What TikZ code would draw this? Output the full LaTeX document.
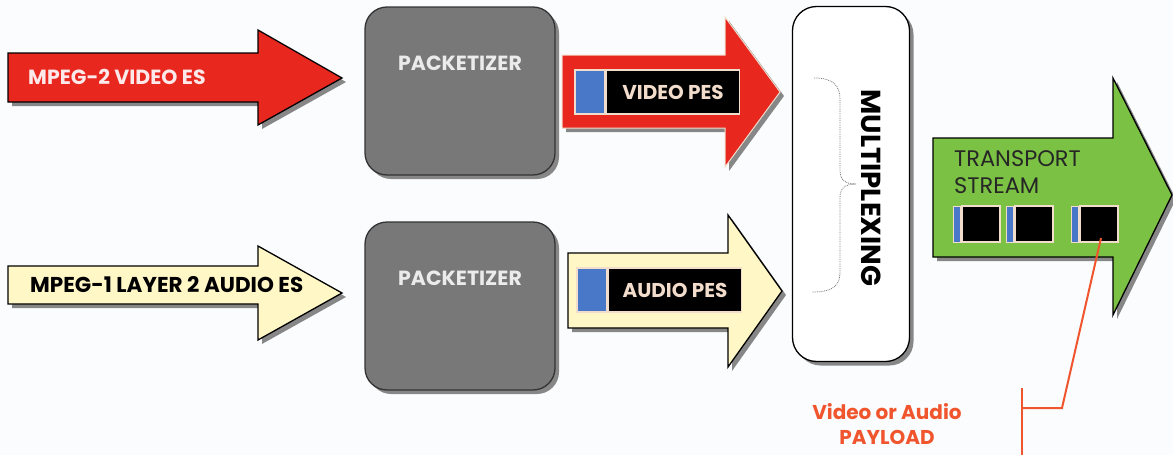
\documentclass[tikz,border=0pt]{standalone}
\usepackage{fontspec}
\setmainfont{Poppins}
\usetikzlibrary{shadows,positioning}

\definecolor{bgcol}{HTML}{FAFCFE}
\definecolor{esred}{HTML}{E8271F}
\definecolor{esyellow}{HTML}{FFF7C6}
\definecolor{tsgreen}{HTML}{7BC143}
\definecolor{packgrey}{HTML}{787878}
\definecolor{pesblue}{HTML}{4A78C8}
\definecolor{pesedge}{HTML}{F2DCCB}
\definecolor{payred}{HTML}{F0552E}

\begin{document}
\begin{tikzpicture}[x=1pt,y=-1pt,
    dropsh/.style={drop shadow={shadow xshift=4pt,shadow yshift=-4pt,fill=black!55,opacity=0.85}},
    esarrow/.style={dropsh,draw=black,line width=1.3pt},
    estext/.style={font=\bfseries\fontsize{20.5}{24}\selectfont,anchor=west,inner sep=0pt},
    packbox/.style={dropsh,draw=black!80,line width=1.3pt,fill=packgrey,rounded corners=22pt,
        minimum width=190pt,minimum height=168pt,inner sep=0pt},
    packtext/.style={font=\bfseries\fontsize{20.5}{24}\selectfont,text=black!8},
    pesbox/.style={fill=black,draw=pesedge,line width=1.5pt,minimum width=133pt,minimum height=44pt,
        inner sep=0pt,text=pesedge,font=\bfseries\fontsize{20}{24}\selectfont},
    pesflag/.style={fill=pesblue,draw=pesedge,line width=1.5pt,minimum width=30pt,minimum height=44pt,inner sep=0pt},
    pkt/.style={fill=black,draw=pesedge,line width=1.2pt,minimum width=38pt,minimum height=36pt,inner sep=0pt},
    pktflag/.style={fill=pesblue,draw=pesedge,line width=1pt,minimum width=7pt,minimum height=36pt,inner sep=0pt},
    payline/.style={payred,line width=2pt}]

    % Page and background
    \useasboundingbox (0,0) rectangle (1173,455);
    \fill[bgcol] (0,0) rectangle (1173,455);

    % Elementary streams
    \draw[esarrow,fill=esred] (8,53) -- (258,53) -- (258,30) -- (342,78) -- (258,125) -- (258,102) -- (8,102) -- cycle;
    \node[estext,text=white!90!esred] (videoes) at (28,77) {MPEG-2 VIDEO ES};
    \draw[esarrow,fill=esyellow] (8,266) -- (258,266) -- (258,246) -- (342,293) -- (258,340) -- (258,304) -- (8,304) -- cycle;
    \node[estext,text=black,font=\bfseries\fontsize{21.5}{24}\selectfont] (audioes) at (30,285) {MPEG-1 LAYER 2 AUDIO ES};

    % Packetizers
    \node[packbox] (pack1) at (460,91) {};
    \node[packtext] (pack1label) at (460,63) {PACKETIZER};
    \node[packbox] (pack2) at (460,306) {};
    \node[packtext] (pack2label) at (460,278) {PACKETIZER};

    % PES arrows
    \draw[dropsh,fill=esred,draw=pesedge,line width=1pt] (562,55) -- (725,55) -- (725,17) -- (780,92) -- (725,167) -- (725,128) -- (562,128) -- cycle;
    \node[pesflag] (vflag) at (590,92) {};
    \node[pesbox,right=0pt of vflag] (videopes) {VIDEO PES};
    \draw[esarrow,fill=esyellow] (568,253) -- (728,253) -- (728,215) -- (782,291) -- (728,367) -- (728,328) -- (568,328) -- cycle;
    \node[pesflag] (aflag) at (592,290) {};
    \node[pesbox,right=0pt of aflag] (audiopes) {AUDIO PES};

    % Multiplexer
    \node[dropsh,draw=black,line width=1.3pt,fill=white,rounded corners=24pt,
        minimum width=117pt,minimum height=355pt,inner sep=0pt] (mux) at (851,184) {};
    \draw[black!55,densely dotted,line width=0.8pt] (814,78) .. controls (834,78) and (840,86) .. (840,100) -- (840,170)
        .. controls (840,180) and (845,184) .. (856,184) .. controls (845,184) and (840,188) .. (840,198)
        -- (840,272) .. controls (840,285) and (834,292) .. (812,292);
    \node[rotate=-90,font=\bfseries\fontsize{27.5}{30}\selectfont] (muxlabel) at (871,188) {MULTIPLEXING};

    % Transport stream
    \draw[esarrow,fill=tsgreen] (933,138) -- (1113,138) -- (1113,78) -- (1172,195) -- (1113,315) -- (1113,257) -- (933,257) -- cycle;
    \node[anchor=north west,align=left,inner sep=0pt,text=black!85,
        font=\fontsize{22.5}{27}\selectfont] (tslabel) at (954,150) {TRANSPORT\\STREAM};
    \foreach \i/\px in {1/981,2/1034,3/1099} {
        \node[pkt] (pkt\i) at (\px,224) {};
        \node[pktflag,left=0pt of pkt\i] (pktflag\i) {};
    }

    % Payload callout
    \coordinate (elbow) at (1062,408);
    \coordinate (bar) at (1022,408);
    \draw[payline] (pkt3.center) ++(2,14) -- (elbow) -- (bar);
    \draw[payline] (1022,388) -- (1022,455);
    \node[align=center,text=payred,font=\bfseries\fontsize{20}{25}\selectfont] (payload) at (887,424)
        {Video or Audio\\PAYLOAD};
\end{tikzpicture}
\end{document}
